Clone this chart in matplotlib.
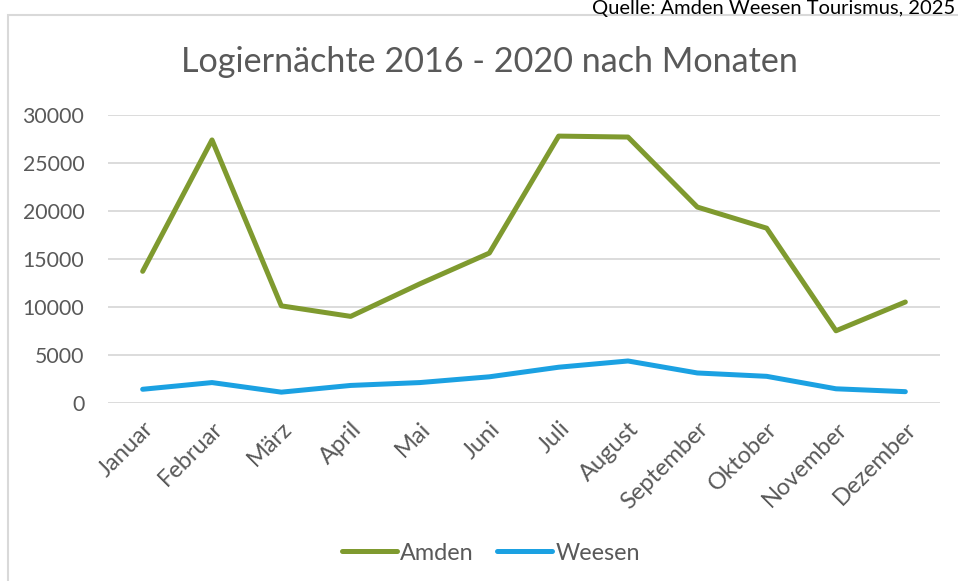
import matplotlib
matplotlib.use("Agg")
import matplotlib.pyplot as plt
from matplotlib.patches import Rectangle

months = ["Januar", "Februar", "März", "April", "Mai", "Juni", "Juli",
          "August", "September", "Oktober", "November", "Dezember"]
amden = [13700, 27400, 10100, 9000, 12400, 15600, 27800, 27700, 20400, 18200, 7500, 10500]
weesen = [1400, 2100, 1100, 1800, 2100, 2700, 3700, 4350, 3100, 2750, 1450, 1150]
yticks = [0, 5000, 10000, 15000, 20000, 25000, 30000]

plt.rcParams['font.family'] = ['Lato', 'DejaVu Sans']
W, H = 958, 581
fig = plt.figure(figsize=(W/100, H/100), dpi=100)

# chart frame
fig.patches.append(Rectangle((8/W, -0.1), 1.2, 1 - 15/H + 0.1, transform=fig.transFigure,
                             fill=False, edgecolor="#D9D9D9", linewidth=1.5))
fig.text(955/W, 1 - 14/H, "Quelle: Amden Weesen Tourismus, 2025", fontsize=14.5,
         color="black", ha="right", va="baseline")

ax = fig.add_axes([108/W, 1 - 402.7/H, (940-108)/W, (402.7-115)/H])
x = list(range(len(months)))
ax.plot(x, amden, color="#7F9A2F", linewidth=3.6, solid_capstyle="round", label="Amden")
ax.plot(x, weesen, color="#1BA1E2", linewidth=3.6, solid_capstyle="round", label="Weesen")
ax.set_xlim(-0.5, 11.5)
ax.set_ylim(0, 30000)
ax.set_yticks(yticks)
ax.set_yticklabels([str(v) for v in yticks], fontsize=15.3)
ax.set_xticks(x)
ax.set_xticklabels(months, rotation=45, ha="right", rotation_mode="anchor", fontsize=17)
ax.grid(axis="y", color="#D9D9D9", linewidth=1.3)
ax.set_axisbelow(True)
for s in ["top", "right", "left", "bottom"]:
    ax.spines[s].set_visible(False)
ax.tick_params(axis="both", length=0, colors="#595959")
ax.tick_params(axis="y", pad=17)
ax.tick_params(axis="x", pad=11)

fig.text(489/W, 1 - 62/H, "Logiernächte 2016 - 2020 nach Monaten", fontsize=24.6,
         color="#595959", ha="center", va="center")

leg = fig.legend(loc="center", bbox_to_anchor=(491/W, 1 - 553/H), ncol=2, frameon=False,
                 fontsize=16.8, handlelength=2.35, handletextpad=0.15, columnspacing=1.0,
                 labelcolor="#595959")
plt.savefig("out.png", dpi=100)
